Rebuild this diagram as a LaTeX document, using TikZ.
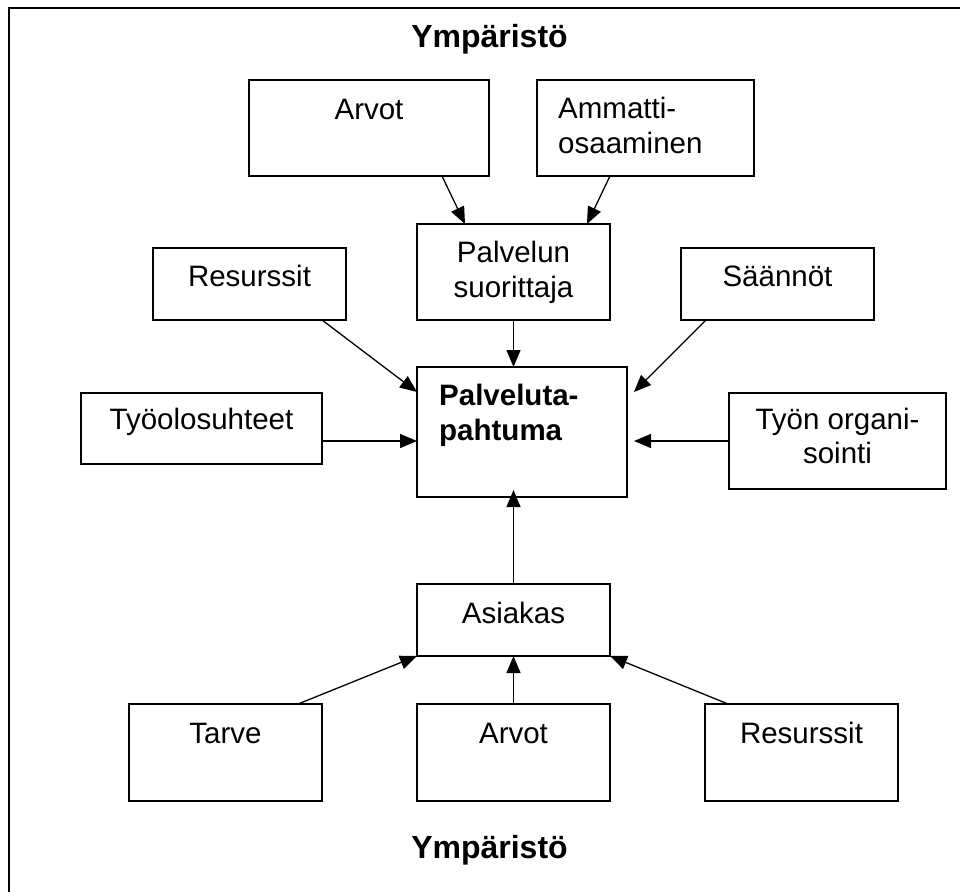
\documentclass[tikz,border=0pt]{standalone}
\usepackage{fontspec}
\setmainfont{Liberation Sans}
\usetikzlibrary{arrows.meta,calc}

\tikzset{
  box/.style={draw=black, line width=1.4pt, rectangle, anchor=north west, inner sep=0pt, outer sep=0pt},
  txt/.style={inner sep=0pt, font=\fontsize{29.5}{35}\selectfont},
  title/.style={inner sep=0pt, font=\fontsize{32}{38}\selectfont\bfseries},
  arr/.style={line width=1.3pt, -{Triangle[length=17pt,width=14pt]}},
}

\begin{document}
\begin{tikzpicture}[x=1pt, y=-1pt]
  \useasboundingbox (0,0) rectangle (960,891);
  \clip (0,0) rectangle (960,891);

  % surrounding frame
  \draw[line width=1.6pt] (9,8) rectangle (1000,930);

  % environment labels
  \node[title, anchor=base] (ymp1) at (489.5,48) {Ympäristö};
  \node[title, anchor=base] (ymp2) at (489.5,858) {Ympäristö};

  % boxes
  \node[box, minimum width=240pt, minimum height=96pt]  (arv1) at (249,80) {};
  \node[box, minimum width=217pt, minimum height=96pt]  (amm)  at (537,80) {};
  \node[box, minimum width=193pt, minimum height=96pt]  (palv) at (417,224) {};
  \node[box, minimum width=193pt, minimum height=72pt]  (res1) at (153,248) {};
  \node[box, minimum width=193pt, minimum height=72pt]  (saa)  at (681,248) {};
  \node[box, minimum width=210pt, minimum height=130pt] (pt)   at (417,367) {};
  \node[box, minimum width=241pt, minimum height=71pt]  (tyo)  at (81,393) {};
  \node[box, minimum width=217pt, minimum height=96pt]  (org)  at (729,393) {};
  \node[box, minimum width=193pt, minimum height=72pt]  (as)   at (417,584) {};
  \node[box, minimum width=193pt, minimum height=97pt]  (tar)  at (129,704) {};
  \node[box, minimum width=193pt, minimum height=97pt]  (arv2) at (417,704) {};
  \node[box, minimum width=193pt, minimum height=97pt]  (res2) at (705,704) {};

  % box texts
  \node[txt, anchor=base] (t-arv1) at (369,119) {Arvot};
  \node[txt, anchor=base west] (t-amm1) at (558,118) {Ammatti-};
  \node[txt, anchor=base west] (t-amm2) at (558,153) {osaaminen};
  \node[txt, anchor=base] (t-palv1) at (513.5,262) {Palvelun};
  \node[txt, anchor=base] (t-palv2) at (513.5,297) {suorittaja};
  \node[txt, anchor=base] (t-res1) at (249.5,286) {Resurssit};
  \node[txt, anchor=base] (t-saa) at (777.5,286) {Säännöt};
  \node[txt, anchor=base west, font=\fontsize{29.5}{35}\selectfont\bfseries] (t-pt1) at (439,405) {Palveluta-};
  \node[txt, anchor=base west, font=\fontsize{29.5}{35}\selectfont\bfseries] (t-pt2) at (439,440) {pahtuma};
  \node[txt, anchor=base] (t-tyo) at (201.5,429) {Työolosuhteet};
  \node[txt, anchor=base] (t-org1) at (837.5,429) {Työn organi-};
  \node[txt, anchor=base] (t-org2) at (837.5,463) {sointi};
  \node[txt, anchor=base] (t-as) at (513.5,623) {Asiakas};
  \node[txt, anchor=base] (t-tar) at (225.5,743) {Tarve};
  \node[txt, anchor=base] (t-arv2) at (513.5,743) {Arvot};
  \node[txt, anchor=base] (t-res2) at (801.5,743) {Resurssit};

  % connectors
  \draw[arr] ($(arv1.south west)+(193,0)$) -- ($(palv.north west)+(48,0)$);
  \draw[arr] ($(amm.south west)+(73,0)$) -- ($(palv.north west)+(170,0)$);
  \draw[arr] (palv.south) -- (palv.south |- pt.north);
  \draw[arr] ($(res1.south west)+(169,0)$) -- ($(pt.north west)+(0,25)$);
  \draw[arr] ($(saa.south west)+(25,0)$) -- ($(pt.north east)+(7,25)$);
  \draw[arr] ($(tyo.north east)+(0,48)$) -- ($(pt.north west)+(0,74)$);
  \draw[arr] ($(org.north west)+(0,48)$) -- ($(pt.north east)+(7,74)$);
  \draw[arr] (as.north) -- ($(as.north |- pt.south)+(0,-7)$);
  \draw[arr] ($(tar.north west)+(169,0)$) -- (as.south west);
  \draw[arr] (arv2.north) -- (as.south);
  \draw[arr] ($(res2.north west)+(23,0)$) -- (as.south east);
\end{tikzpicture}
\end{document}
